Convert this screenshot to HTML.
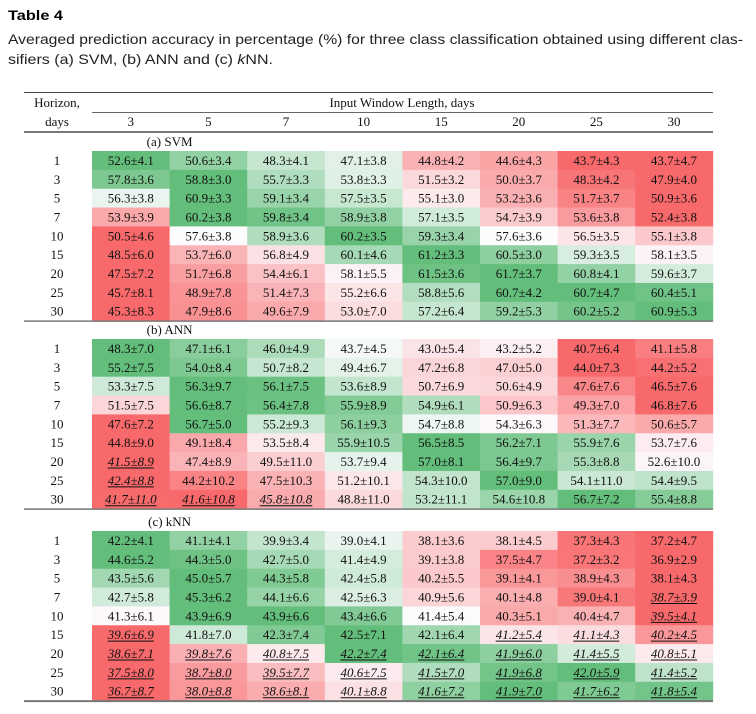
<!DOCTYPE html>
<html><head><meta charset="utf-8">
<style>
html,body{margin:0;padding:0;background:#fff;}
svg{display:block;}
</style></head>
<body>
<svg id="t" width="756" height="714" xmlns="http://www.w3.org/2000/svg">
<text x="8" y="20" font-family="Liberation Sans, sans-serif" font-weight="bold" font-size="14" textLength="55" lengthAdjust="spacingAndGlyphs">Table 4</text>
<text x="8" y="44" font-family="Liberation Sans, sans-serif" font-size="14" textLength="735" lengthAdjust="spacingAndGlyphs" fill="#222">Averaged prediction accuracy in percentage (%) for three class classification obtained using different clas-</text>
<text x="8" y="64" font-family="Liberation Sans, sans-serif" font-size="14" textLength="265" lengthAdjust="spacingAndGlyphs" fill="#222">sifiers (a) SVM, (b) ANN and (c) <tspan font-style="italic">k</tspan>NN.</text>
<g id="tbl" font-family="Liberation Serif, serif" font-size="13"></g>
</svg>
<script>
const windows = ["3","5","7","10","15","20","25","30"];
const horizons = ["1","3","5","7","10","15","20","25","30"];
const blockNames = ["(a) SVM","(b) ANN","(c) kNN"];
const svmVals = [
["52.6±4.1","50.6±3.4","48.3±4.1","47.1±3.8","44.8±4.2","44.6±4.3","43.7±4.3","43.7±4.7"],
["57.8±3.6","58.8±3.0","55.7±3.3","53.8±3.3","51.5±3.2","50.0±3.7","48.3±4.2","47.9±4.0"],
["56.3±3.8","60.9±3.3","59.1±3.4","57.5±3.5","55.1±3.0","53.2±3.6","51.7±3.7","50.9±3.6"],
["53.9±3.9","60.2±3.8","59.8±3.4","58.9±3.8","57.1±3.5","54.7±3.9","53.6±3.8","52.4±3.8"],
["50.5±4.6","57.6±3.8","58.9±3.6","60.2±3.5","59.3±3.4","57.6±3.6","56.5±3.5","55.1±3.8"],
["48.5±6.0","53.7±6.0","56.8±4.9","60.1±4.6","61.2±3.3","60.5±3.0","59.3±3.5","58.1±3.5"],
["47.5±7.2","51.7±6.8","54.4±6.1","58.1±5.5","61.5±3.6","61.7±3.7","60.8±4.1","59.6±3.7"],
["45.7±8.1","48.9±7.8","51.4±7.3","55.2±6.6","58.8±5.6","60.7±4.2","60.7±4.7","60.4±5.1"],
["45.3±8.3","47.9±8.6","49.6±7.9","53.0±7.0","57.2±6.4","59.2±5.3","60.2±5.2","60.9±5.3"]];
const annVals = [
["48.3±7.0","47.1±6.1","46.0±4.9","43.7±4.5","43.0±5.4","43.2±5.2","40.7±6.4","41.1±5.8"],
["55.2±7.5","54.0±8.4","50.7±8.2","49.4±6.7","47.2±6.8","47.0±5.0","44.0±7.3","44.2±5.2"],
["53.3±7.5","56.3±9.7","56.1±7.5","53.6±8.9","50.7±6.9","50.6±4.9","47.6±7.6","46.5±7.6"],
["51.5±7.5","56.6±8.7","56.4±7.8","55.9±8.9","54.9±6.1","50.9±6.3","49.3±7.0","46.8±7.6"],
["47.6±7.2","56.7±5.0","55.2±9.3","56.1±9.3","54.7±8.8","54.3±6.3","51.3±7.7","50.6±5.7"],
["44.8±9.0","49.1±8.4","53.5±8.4","55.9±10.5","56.5±8.5","56.2±7.1","55.9±7.6","53.7±7.6"],
["41.5±8.9","47.4±8.9","49.5±11.0","53.7±9.4","57.0±8.1","56.4±9.7","55.3±8.8","52.6±10.0"],
["42.4±8.8","44.2±10.2","47.5±10.3","51.2±10.1","54.3±10.0","57.0±9.0","54.1±11.0","54.4±9.5"],
["41.7±11.0","41.6±10.8","45.8±10.8","48.8±11.0","53.2±11.1","54.6±10.8","56.7±7.2","55.4±8.8"]];
const knnVals = [
["42.2±4.1","41.1±4.1","39.9±3.4","39.0±4.1","38.1±3.6","38.1±4.5","37.3±4.3","37.2±4.7"],
["44.6±5.2","44.3±5.0","42.7±5.0","41.4±4.9","39.1±3.8","37.5±4.7","37.2±3.2","36.9±2.9"],
["43.5±5.6","45.0±5.7","44.3±5.8","42.4±5.8","40.2±5.5","39.1±4.1","38.9±4.3","38.1±4.3"],
["42.7±5.8","45.3±6.2","44.1±6.6","42.5±6.3","40.9±5.6","40.1±4.8","39.0±4.1","38.7±3.9"],
["41.3±6.1","43.9±6.9","43.9±6.6","43.4±6.6","41.4±5.4","40.3±5.1","40.4±4.7","39.5±4.1"],
["39.6±6.9","41.8±7.0","42.3±7.4","42.5±7.1","42.1±6.4","41.2±5.4","41.1±4.3","40.2±4.5"],
["38.6±7.1","39.8±7.6","40.8±7.5","42.2±7.4","42.1±6.4","41.9±6.0","41.4±5.5","40.8±5.1"],
["37.5±8.0","38.7±8.0","39.5±7.7","40.6±7.5","41.5±7.0","41.9±6.8","42.0±5.9","41.4±5.2"],
["36.7±8.7","38.0±8.8","38.6±8.1","40.1±8.8","41.6±7.2","41.9±7.0","41.7±6.2","41.8±5.4"]];
const svmItal = [[],[],[],[],[],[],[],[],[]];
const annItal = [[],[],[],[],[],[],[0],[0],[0,1,2]];
const knnItal = [[],[],[],[7],[7],[0,5,6,7],[0,1,2,3,4,5,6,7],[0,1,2,3,4,5,6,7],[0,1,2,3,4,5,6,7]];

const NS="http://www.w3.org/2000/svg";
const g=document.getElementById('tbl');
function mk(tag,attrs,parent){const e=document.createElementNS(NS,tag);for(const k in attrs)e.setAttribute(k,attrs[k]);(parent||g).appendChild(e);return e;}
const X0=92, CW=77.6, LX=24, RX=713, RH=18.85;
function colX(i){return X0+i*CW;}
function line(y,w,c){const l=mk('line',{x1:LX,x2:RX,y1:y,y2:y,stroke:c||'#555','stroke-width':w||1});

return l;}
function txt(x,y,s,name,extra){const t=mk('text',Object.assign({x:x,y:y,'text-anchor':'middle',fill:'#111'},extra||{}));t.textContent=s;

return t;}
function mix(a,b,t){return a.map((v,i)=>Math.round(v+(b[i]-v)*t));}
const RED=[248,105,107],WHITE=[252,252,255],GREEN=[99,190,123];
function color(v,min,mid,max){let c;
 if(v>=mid){c=mix(WHITE,GREEN,max>mid?(v-mid)/(max-mid):0);}else{c=mix(WHITE,RED,mid>min?(mid-v)/(mid-min):0);}
 return 'rgb('+c.join(',')+')';}

line(92.5,1,'#444');
txt(57,107,"Horizon,","horizon-header");
txt(402,107,"Input Window Length, days","window-header");
const sub=mk('line',{x1:X0,x2:RX,y1:112.5,y2:112.5,stroke:'#666','stroke-width':1});


txt(57,126,"days","days-header");
windows.forEach((w,i)=>txt(colX(i)+CW/2,126,w,'window-'+w+'-header'));
line(132,2,'#777');

const blocks=[[svmVals,svmItal,151],[annVals,annItal,339],[knnVals,knnItal,531]];
blocks.forEach((b,bi)=>{
  const [vals,ital,top]=b;
  txt(colX(1),top-5,blockNames[bi],'block-label-'+bi);
  vals.forEach((row,ri)=>{
    const nums=row.map(s=>parseFloat(s.split('±')[0]));
    const sorted=[...nums].sort((a,c)=>a-c);
    const mid=(sorted[3]+sorted[4])/2, min=sorted[0], max=sorted[7];
    const y=top+ri*RH;
    txt(57,y+RH/2+4.5,horizons[ri],'horizon-'+horizons[ri]);
    row.forEach((s,ci)=>{
      const r=mk('rect',{x:colX(ci),y:y,width:CW+0.4,height:RH+0.4,fill:color(nums[ci],min,mid,max)});
      
      
      const it=ital[ri].indexOf(ci)>=0;
      const ex=it?{'font-style':'italic'}:{};
      const t=txt(colX(ci)+CW/2,y+RH/2+4.5,s,'cell-value',ex);
      if(it){const tw=t.getComputedTextLength();
        const u=mk('line',{x1:colX(ci)+CW/2-tw/2,x2:colX(ci)+CW/2+tw/2,y1:y+RH/2+6.5,y2:y+RH/2+6.5,stroke:'#111','stroke-width':1});
        
        }
    });
  });
  const bottom=top+9*RH;
  line(bottom+0.5,bi===2?2:1.5,'#777');
});
</script>
</body></html>
